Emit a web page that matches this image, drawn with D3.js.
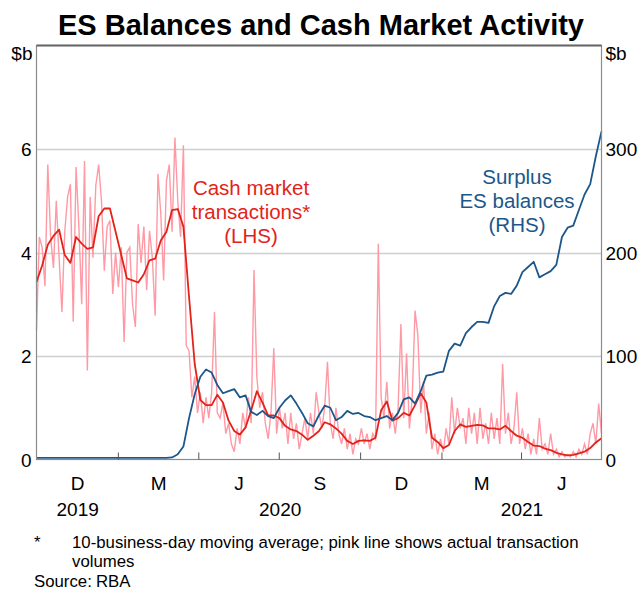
<!DOCTYPE html>
<html>
<head>
<meta charset="utf-8">
<script src="https://cdn.jsdelivr.net/npm/d3@7"></script>
<style>
    body { margin: 0; background: #fff; }
    text { font-family: Arial, "Liberation Sans", sans-serif; }
</style>
</head>
<body>
<script>
//chart data
var startDate = new Date(2019, 9, 1),
    endDate = new Date(2021, 6, 1);

//cash market transactions, 10-business-day moving average ($b, LHS), evenly spaced over the period
var cashAvg = [3.43, 3.75, 4.15, 4.32, 4.44, 3.95, 3.8, 4.3, 4.17, 4.07,
    4.1, 4.7, 4.85, 4.85, 4.4, 3.95, 3.5, 3.46, 3.42, 3.58,
    3.85, 3.88, 4.23, 4.4, 4.82, 4.84, 4.5, 3.14, 1.85, 1.15,
    1.05, 1.05, 1.25, 1.1, 0.75, 0.55, 0.48, 0.62, 0.95, 1.32,
    1.1, 0.85, 0.85, 0.8, 0.65, 0.58, 0.55, 0.48, 0.38, 0.46,
    0.55, 0.72, 0.68, 0.6, 0.5, 0.36, 0.3, 0.36, 0.37, 0.36,
    0.42, 0.95, 1.12, 0.75, 0.8, 0.9, 0.85, 1.05, 1.28, 1.1,
    0.42, 0.34, 0.22, 0.28, 0.55, 0.68, 0.63, 0.65, 0.67, 0.66,
    0.6, 0.6, 0.58, 0.65, 0.55, 0.46, 0.42, 0.34, 0.27, 0.26,
    0.21, 0.18, 0.13, 0.1, 0.08, 0.09, 0.12, 0.15, 0.22, 0.33, 0.41];

//actual daily transaction volumes ($b, LHS), evenly spaced over the period
var cashDaily = [2.5, 4.3, 4.1, 3.35, 5.7, 4.3, 3.7, 5.0, 3.9, 2.85,
    4.4, 5.07, 5.32, 2.66, 5.65, 4.5, 3.0, 5.77, 1.72, 5.07,
    3.9, 5.3, 5.7, 5.0, 3.65, 4.5, 4.62, 3.2, 4.0, 3.33,
    4.1, 2.27, 4.0, 4.1, 3.0, 2.56, 4.55, 3.8, 4.5, 3.27,
    4.42, 3.9, 2.78, 5.52, 4.75, 3.46, 5.39, 5.7, 4.4, 6.22,
    5.0, 4.3, 6.07, 2.2, 2.1, 1.2, 1.6, 0.9, 1.3, 0.7,
    1.2, 0.8, 1.3, 2.85, 0.9, 0.8, 1.1, 0.5, 0.7, 0.3,
    0.15, 0.6, 0.3, 0.9, 0.6, 1.2, 0.7, 3.66, 1.6, 1.0,
    1.3, 0.7, 0.4, 0.9, 2.15, 0.5, 1.0, 0.6, 0.9, 0.3,
    0.9, 0.4, 0.7, 0.2, 0.5, 0.8, 0.4, 0.9, 0.5, 1.3,
    0.9, 0.6, 1.0, 1.89, 0.7, 0.4, 1.0, 0.5, 0.3, 0.6,
    0.2, 0.5, 0.1, 0.4, 0.3, 0.6, 0.3, 0.5, 0.2, 0.5,
    0.4, 4.17, 1.2, 0.8, 1.5, 0.6, 0.9, 0.5, 1.0, 2.62,
    0.8, 2.05, 0.6, 1.2, 2.88, 2.4, 0.9, 1.5, 0.5, 0.9,
    0.2, 0.5, 0.1, 0.4, 0.15, 0.6, 0.3, 1.2, 0.5, 1.0,
    0.6, 0.8, 0.3, 1.0, 0.5, 0.9, 0.3, 1.0, 0.4, 0.7,
    0.3, 0.9, 0.4, 0.8, 0.3, 1.85, 0.5, 0.9, 0.3, 0.6,
    1.3, 0.3, 0.6, 0.2, 0.5, 0.1, 0.4, 0.1, 0.8, 0.2,
    0.3, 0.1, 0.5, 0.1, 0.2, 0.05, 0.15, 0.05, 0.1, 0.05,
    0.15, 0.05, 0.2, 0.1, 0.3, 0.1, 0.5, 0.7, 0.3, 1.08, 0.5];

//surplus ES balances ($b, RHS), evenly spaced over the period
var esBalances = [1.5, 1.5, 1.5, 1.5, 1.5, 1.5, 1.5, 1.5, 1.5, 1.5,
    1.5, 1.5, 1.5, 1.5, 1.5, 1.5, 1.5, 1.5, 1.5, 1.5,
    1.5, 1.5, 1.5, 1.5, 2, 5, 12.5, 40, 63, 80,
    87, 84, 72, 64, 66, 68, 60, 62, 46, 43,
    47, 42, 40, 50, 57, 62, 54, 45, 35, 32,
    43, 52, 50, 38, 41, 47, 44, 45, 42, 41,
    38, 40, 42, 38, 45, 58, 60, 54, 66, 81,
    82, 84, 85, 105, 112, 110, 122, 128, 133, 133,
    132, 148, 158, 161, 160, 168, 181, 186, 191, 176,
    179, 182, 188, 215, 224, 226, 241, 256, 266, 293, 317];

//axis labels
var leftTicks = [0, 2, 4, 6],
    rightTicks = [0, 100, 200, 300],
    quarterLabels = ["D", "M", "J", "S", "D", "M", "J"],
    yearLabels = ["2019", "2020", "2021"];

(function(){

    //frame dimensions
    var width = 642,
        height = 593,
        left = 36.5,
        right = 601.5,
        top = 45.5,
        bottom = 459.5;

    var red = "#e2231a",
        pink = "#ff99a5",
        blue = "#1b578a";

    var svg = d3.select("body")
        .append("svg")
        .attr("width", width)
        .attr("height", height);

    //scales
    var x = d3.scaleTime()
        .domain([startDate, endDate])
        .range([left, right]);

    var yLeft = d3.scaleLinear()
        .domain([0, 8])
        .range([bottom, top]);

    var yRight = d3.scaleLinear()
        .domain([0, 400])
        .range([bottom, top]);

    //spread a series evenly over the period
    function spread(values){
        var idx = d3.scaleLinear()
            .domain([0, values.length - 1])
            .range([startDate.getTime(), endDate.getTime()]);
        return values.map(function(v, i){
            return { date: new Date(idx(i)), value: v };
        });
    };

    //title
    svg.append("text")
        .attr("x", width / 2)
        .attr("y", 35)
        .attr("text-anchor", "middle")
        .style("font-size", "29px")
        .style("font-weight", "bold")
        .text("ES Balances and Cash Market Activity");

    //horizontal gridlines
    svg.append("g")
        .selectAll("line")
        .data(leftTicks.slice(1))
        .enter()
        .append("line")
        .attr("x1", left)
        .attr("x2", right)
        .attr("y1", function(d){ return Math.round(yLeft(d)) + 0.5; })
        .attr("y2", function(d){ return Math.round(yLeft(d)) + 0.5; })
        .attr("stroke", "#cfcfcf")
        .attr("stroke-width", 1.5);

    //lines
    var lineLeft = d3.line()
        .x(function(d){ return x(d.date); })
        .y(function(d){ return yLeft(d.value); });

    var lineRight = d3.line()
        .x(function(d){ return x(d.date); })
        .y(function(d){ return yRight(d.value); });

    svg.append("path")
        .datum(spread(cashDaily))
        .attr("d", lineLeft)
        .attr("fill", "none")
        .attr("stroke", pink)
        .attr("stroke-width", 1.4);

    svg.append("path")
        .datum(spread(cashAvg))
        .attr("d", lineLeft)
        .attr("fill", "none")
        .attr("stroke", red)
        .attr("stroke-width", 1.8)
        .attr("stroke-linejoin", "round");

    svg.append("path")
        .datum(spread(esBalances))
        .attr("d", lineRight)
        .attr("fill", "none")
        .attr("stroke", blue)
        .attr("stroke-width", 1.8)
        .attr("stroke-linejoin", "round");

    //plot frame
    svg.append("rect")
        .attr("x", left)
        .attr("y", top)
        .attr("width", right - left)
        .attr("height", bottom - top)
        .attr("fill", "none")
        .attr("stroke", "#8c8c8c")
        .attr("stroke-width", 1.2);

    svg.append("line")
        .attr("x1", left)
        .attr("x2", right)
        .attr("y1", top)
        .attr("y2", top)
        .attr("stroke", "#666")
        .attr("stroke-width", 2);

    //quarter tick marks (pointing into the plot)
    var quarterStarts = d3.timeMonth.every(3).range(new Date(2020, 0, 1), endDate);
    var tickAxis = d3.axisBottom(x)
        .tickValues(quarterStarts)
        .tickSize(-7)
        .tickFormat("");
    svg.append("g")
        .attr("transform", "translate(0," + bottom + ")")
        .call(tickAxis)
        .call(function(g){ g.select(".domain").remove(); })
        .selectAll("line")
        .attr("stroke", "#555");

    //quarter labels at the middle of each quarter
    var quarters = d3.timeMonth.every(3).range(startDate, endDate);
    var quarterMids = quarters.map(function(q){
        return new Date((q.getTime() + d3.timeMonth.offset(q, 3).getTime()) / 2);
    });
    var quarterAxis = d3.axisBottom(x)
        .tickValues(quarterMids)
        .tickSize(0)
        .tickPadding(0)
        .tickFormat(function(d, i){ return quarterLabels[i]; });
    svg.append("g")
        .attr("transform", "translate(0,490)")
        .call(quarterAxis)
        .call(function(g){ g.select(".domain").remove(); })
        .selectAll("text")
        .attr("dy", 0)
        .style("font-size", "19px")
        .style("font-family", "Arial, 'Liberation Sans', sans-serif")
        .attr("fill", "#000");

    //year labels centred on the visible part of each year
    var yearMids = yearLabels.map(function(y){
        var a = d3.max([new Date(+y, 0, 1), startDate]),
            b = d3.min([new Date(+y + 1, 0, 1), endDate]);
        return new Date((a.getTime() + b.getTime()) / 2);
    });
    var yearAxis = d3.axisBottom(x)
        .tickValues(yearMids)
        .tickSize(0)
        .tickPadding(0)
        .tickFormat(function(d, i){ return yearLabels[i]; });
    svg.append("g")
        .attr("transform", "translate(0,516)")
        .call(yearAxis)
        .call(function(g){ g.select(".domain").remove(); })
        .selectAll("text")
        .attr("dy", 0)
        .style("font-size", "19px")
        .style("font-family", "Arial, 'Liberation Sans', sans-serif")
        .attr("fill", "#000");

    //left axis
    var leftAxis = d3.axisLeft(yLeft)
        .tickValues(leftTicks)
        .tickSize(0)
        .tickPadding(5);
    svg.append("g")
        .attr("transform", "translate(" + left + ",0)")
        .call(leftAxis)
        .call(function(g){ g.select(".domain").remove(); })
        .selectAll("text")
        .attr("dy", "0.35em")
        .style("font-size", "19px")
        .style("font-family", "Arial, 'Liberation Sans', sans-serif")
        .attr("fill", "#000");

    //right axis
    var rightAxis = d3.axisRight(yRight)
        .tickValues(rightTicks)
        .tickSize(0)
        .tickPadding(4);
    svg.append("g")
        .attr("transform", "translate(" + right + ",0)")
        .call(rightAxis)
        .call(function(g){ g.select(".domain").remove(); })
        .selectAll("text")
        .attr("dy", "0.35em")
        .style("font-size", "19px")
        .style("font-family", "Arial, 'Liberation Sans', sans-serif")
        .attr("fill", "#000");

    //units
    svg.append("text")
        .attr("x", left - 4)
        .attr("y", 60)
        .attr("text-anchor", "end")
        .style("font-size", "19px")
        .text("$b");

    svg.append("text")
        .attr("x", right + 4)
        .attr("y", 60)
        .style("font-size", "19px")
        .text("$b");

    //series labels
    var redLabel = svg.append("text")
        .attr("text-anchor", "middle")
        .attr("fill", red)
        .style("font-size", "20.5px");
    ["Cash market", "transactions*", "(LHS)"].forEach(function(t, i){
        redLabel.append("tspan")
            .attr("x", 251)
            .attr("y", 195 + i * 24)
            .text(t);
    });

    var blueLabel = svg.append("text")
        .attr("text-anchor", "middle")
        .attr("fill", blue)
        .style("font-size", "20.5px");
    ["Surplus", "ES balances", "(RHS)"].forEach(function(t, i){
        blueLabel.append("tspan")
            .attr("x", 517)
            .attr("y", 184 + i * 24)
            .text(t);
    });

    //footnotes
    var notes = svg.append("g")
        .style("font-size", "16.8px")
        .attr("fill", "#000");
    notes.append("text").attr("x", 34).attr("y", 548).text("*");
    notes.append("text").attr("x", 72).attr("y", 548)
        .text("10-business-day moving average; pink line shows actual transaction");
    notes.append("text").attr("x", 72).attr("y", 567).text("volumes");
    notes.append("text").attr("x", 34).attr("y", 587).text("Source:");
    notes.append("text").attr("x", 96).attr("y", 587).text("RBA");

})();
</script>
</body>
</html>
